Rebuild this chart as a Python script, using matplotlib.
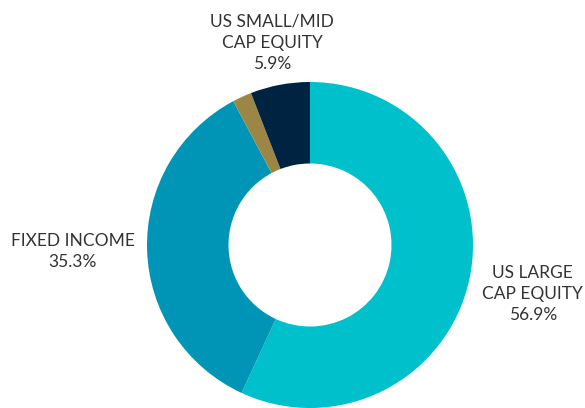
import numpy as np
import matplotlib
matplotlib.use("Agg")
import matplotlib.pyplot as plt

plt.rcParams['font.family'] = ['Lato', 'DejaVu Sans']

# Allocation data, clockwise from 12 o'clock
labels = ["US LARGE\nCAP EQUITY", "FIXED INCOME", "", "US SMALL/MID\nCAP EQUITY"]
shares = [56.9, 35.3, 1.9, 5.9]
colors = ["#00C1CB", "#0095B6", "#9B8645", "#002341"]
label_dist = [1.40, 1.455, None, 1.26]

W, H = 585, 408
cx, cy, R = 310, 245, 163   # pie centre / radius in pixels

fig = plt.figure(figsize=(W / 100, H / 100), dpi=100)
ax = fig.add_axes([0, 0, 1, 1])

wedges, _ = ax.pie(shares, colors=colors, startangle=90, counterclock=False,
                   radius=1, wedgeprops=dict(width=0.5, linewidth=0))

# pie() resets the limits, so set them afterwards
ax.set_xlim(-cx / R, (W - cx) / R)
ax.set_ylim(-(H - cy) / R, cy / R)
ax.set_aspect("equal")
ax.axis("off")

for w, lab, val, d in zip(wedges, labels, shares, label_dist):
    if not lab:
        continue
    ang = np.deg2rad((w.theta1 + w.theta2) / 2)
    ax.text(d * np.cos(ang), d * np.sin(ang), f"{lab}\n{val:.1f}%",
            ha="center", va="center", fontsize=12.5, color="#333333",
            linespacing=1.4)

fig.savefig("out.png", dpi=100)
